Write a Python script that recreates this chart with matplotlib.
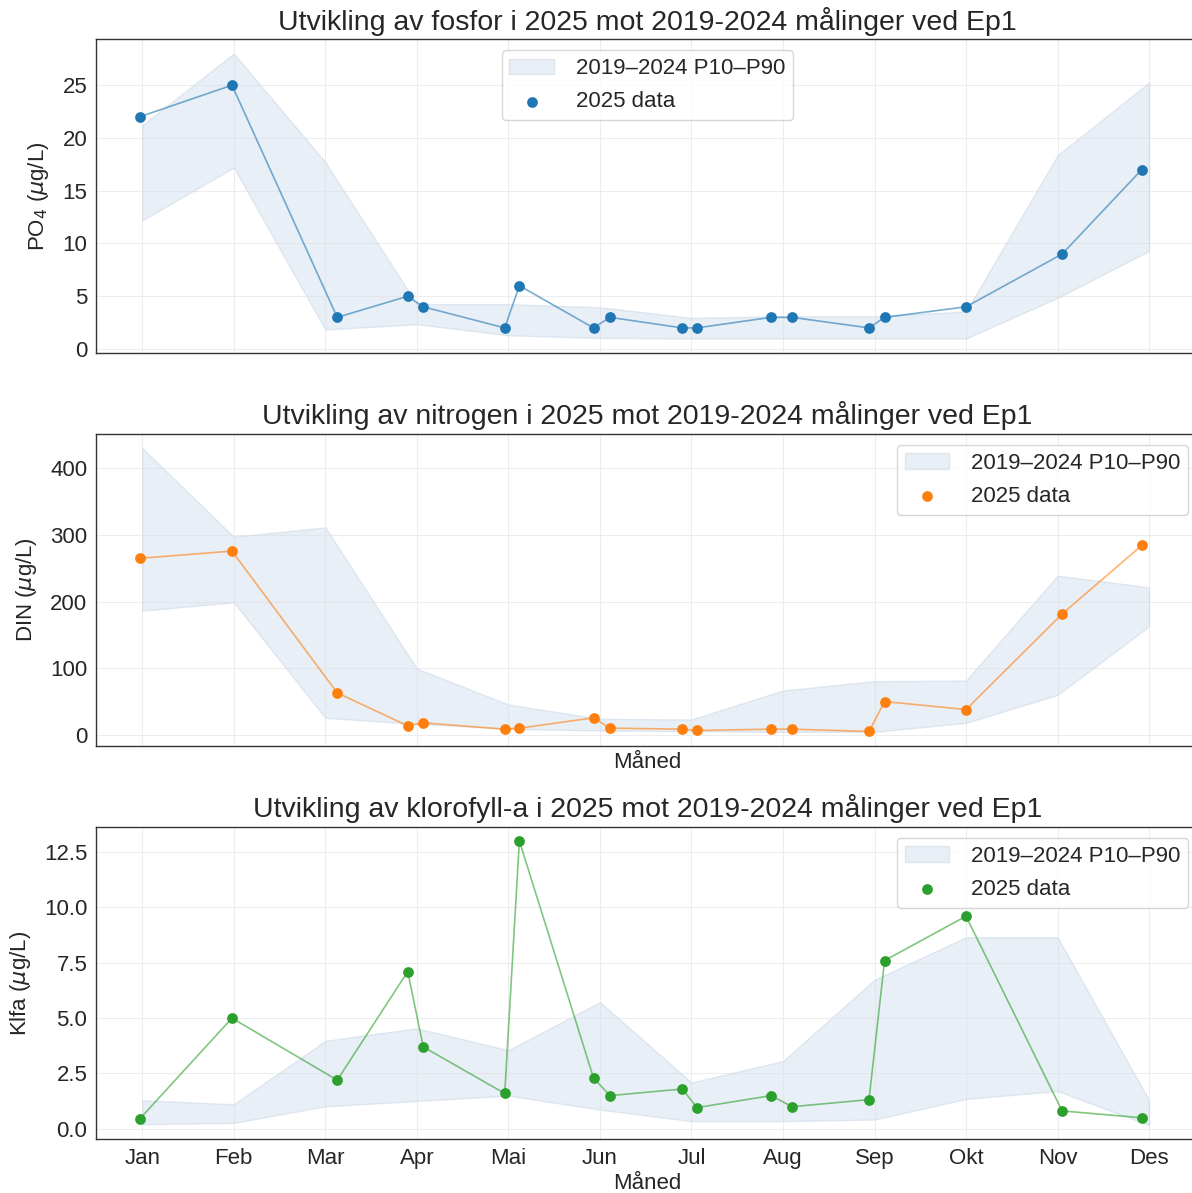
import matplotlib
matplotlib.use("Agg")
import matplotlib.pyplot as plt
import numpy as np

plt.rcParams['font.family'] = ['Liberation Sans', 'DejaVu Sans']
plt.rcParams['mathtext.fontset'] = 'dejavusans'

months = ["Jan", "Feb", "Mar", "Apr", "Mai", "Jun", "Jul", "Aug", "Sep", "Okt", "Nov", "Des"]
month_pos = list(range(1, 13))

# sampling dates in 2025 as fractional month positions
sample_pos = [0.97, 1.98, 3.13, 3.90, 4.07, 4.96, 5.12, 5.93, 6.11, 6.90, 7.06,
              7.87, 8.10, 8.94, 9.11, 10.0, 11.05, 11.92]

# Phosphate
po4_2025 = [22, 25, 3, 5, 4, 2, 6, 2, 3, 2, 2, 3, 3, 2, 3, 4, 9, 17]
po4_p10 = [12.2, 17.2, 1.85, 2.35, 1.3, 1.05, 1.0, 1.0, 1.0, 1.0, 4.85, 9.3]
po4_p90 = [21.2, 28.0, 17.7, 4.25, 4.25, 3.95, 2.95, 3.1, 3.1, 3.55, 18.35, 25.25]

# DIN
din_2025 = [265, 276, 63, 13.5, 18, 8.5, 10, 25.5, 10, 8.5, 6.5, 8.5, 8.5, 5, 50, 38, 181.5, 284.5]
din_p10 = [186.5, 199, 25.5, 16.5, 9, 6.5, 5.5, 4.5, 4.5, 18, 60, 163]
din_p90 = [430.5, 297.5, 311.5, 99.5, 45.5, 24, 23, 66.5, 80.5, 81.5, 239, 221.5]

# Chlorophyll a
chl_2025 = [0.44, 5.0, 2.2, 7.1, 3.7, 1.6, 13.0, 2.3, 1.5, 1.8, 0.96, 1.5, 1.0, 1.32, 7.6, 9.6, 0.81, 0.5]
chl_p10 = [0.21, 0.27, 1.02, 1.26, 1.5, 0.87, 0.35, 0.35, 0.42, 1.35, 1.71, 0.17]
chl_p90 = [1.29, 1.11, 3.97, 4.54, 3.55, 5.72, 2.09, 3.06, 6.73, 8.65, 8.65, 1.29]

panels = [
    ("Utvikling av fosfor i 2025 mot 2019-2024 målinger ved Ep1", r"PO$_4$ ($\mu$g/L)",
     po4_2025, po4_p10, po4_p90, "#1f77b4", "upper center", [0, 5, 10, 15, 20, 25], None),
    ("Utvikling av nitrogen i 2025 mot 2019-2024 målinger ved Ep1", r"DIN ($\mu$g/L)",
     din_2025, din_p10, din_p90, "#ff7f0e", "upper right", [0, 100, 200, 300, 400], None),
    ("Utvikling av klorofyll-a i 2025 mot 2019-2024 målinger ved Ep1", r"Klfa ($\mu$g/L)",
     chl_2025, chl_p10, chl_p90, "#2ca02c", "upper right", [0, 2.5, 5, 7.5, 10, 12.5], "%.1f"),
]

W, H = 1192, 1193
fig = plt.figure(figsize=(W / 100, H / 100), dpi=100)

left_px = 95.6
xlo, xhi = 0.49, 12.55
px_per_month = 91.57
right_px = 141.8 + (xhi - 1) * px_per_month
tops = [39.3, 434.0, 826.7]
bots = [352.7, 746.0, 1139.3]

for i, (title, ylabel, vals, p10, p90, col, loc, yticks, fmt) in enumerate(panels):
    ax = fig.add_axes([left_px / W, 1 - bots[i] / H, (right_px - left_px) / W, (bots[i] - tops[i]) / H])
    ax.set_facecolor("white")
    ax.fill_between(month_pos, p10, p90, color="#d5e0ee", alpha=0.5, linewidth=1.0,
                    edgecolor="#c8d6e6", label="2019–2024 P10–P90", zorder=1)
    ax.plot(sample_pos, vals, color=col, alpha=0.6, linewidth=1.2, zorder=2)
    ax.scatter(sample_pos, vals, color=col, s=60, zorder=3, label="2025 data", linewidths=0)
    ax.set_xlim(xlo, xhi)
    ax.set_xticks(month_pos)
    if i == 2:
        ax.set_xticklabels(months)
    else:
        ax.set_xticklabels([])
    ax.set_yticks(yticks)
    if fmt:
        ax.set_yticklabels([fmt % v for v in yticks])
    ax.tick_params(axis="both", labelsize=16, length=0, colors="#262626", pad=6)
    ax.grid(True, color="#ededed", linewidth=0.8)
    ax.set_axisbelow(True)
    for s in ["left", "bottom", "top", "right"]:
        ax.spines[s].set_color("#333333")
        ax.spines[s].set_linewidth(1.0)
    ax.set_title(title, fontsize=20.5, color="#262626", pad=7)
    ax.set_ylabel(ylabel, fontsize=16, color="#262626", labelpad=8)
    if i >= 1:
        ax.set_xlabel("Måned", fontsize=16, color="#262626", labelpad=-2 if i == 1 else 3)
    leg = ax.legend(loc=loc, fontsize=16, frameon=True, fancybox=True, borderpad=0.35,
                    handlelength=2.0, handletextpad=1.0, labelspacing=0.55)
    leg.get_frame().set_edgecolor("#cccccc")
    leg.get_frame().set_linewidth(1.0)
    for t in leg.get_texts():
        t.set_color("#262626")

fig.savefig("out.png", dpi=100)
